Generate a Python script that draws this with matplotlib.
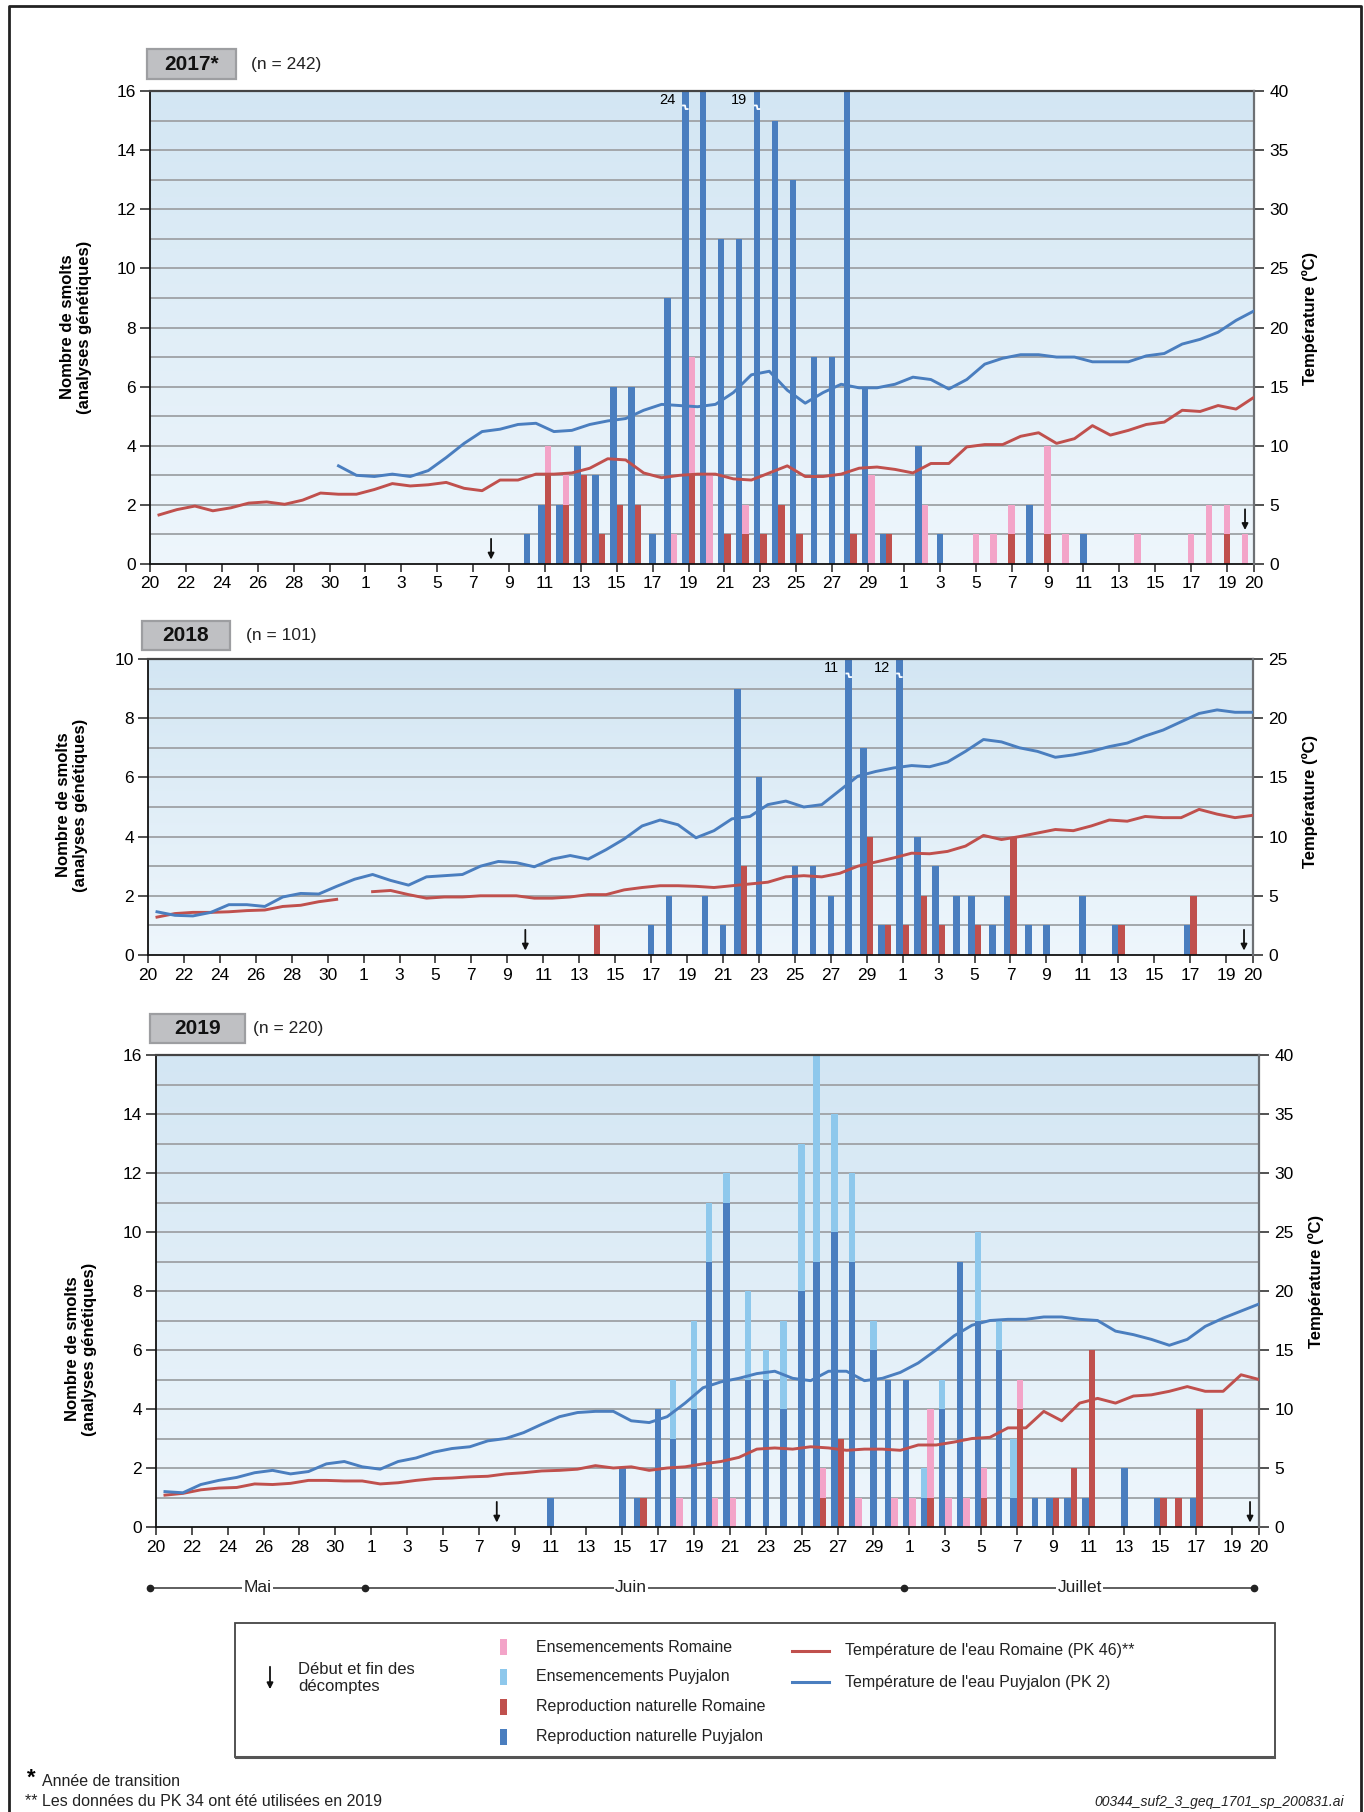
import datetime as dt
import numpy as np
import matplotlib
matplotlib.use("Agg")
import matplotlib.pyplot as plt
from matplotlib.patches import Rectangle
from matplotlib.lines import Line2D
from matplotlib.colors import LinearSegmentedColormap

plt.rcParams['font.family'] = ['Liberation Sans', 'DejaVu Sans']

# ---------------- data ----------------
# bars: day (MM-DD), Puyjalon natural / seeded, Romaine natural / seeded
days_2017 = ['06-10', '06-11', '06-12', '06-13', '06-14', '06-15', '06-16', '06-17', '06-18', '06-19',
             '06-20', '06-21', '06-22', '06-23', '06-24', '06-25', '06-26', '06-27', '06-28', '06-29',
             '06-30', '07-02', '07-03', '07-05', '07-06', '07-07', '07-08', '07-09', '07-10', '07-11',
             '07-14', '07-17', '07-18', '07-19', '07-20']
pn_2017 = [1, 2, 2, 4, 3, 6, 6, 1, 9, 24, 16, 11, 11, 19, 15, 13, 7, 7, 16, 6, 1, 4, 1, 0, 0, 0, 2, 0, 0, 1, 0, 0, 0, 0, 0]
ps_2017 = [0] * 35
rn_2017 = [0, 3, 2, 3, 1, 2, 2, 0, 0, 3, 0, 1, 1, 1, 2, 1, 0, 0, 1, 0, 1, 0, 0, 0, 0, 1, 0, 1, 0, 0, 0, 0, 0, 1, 0]
rs_2017 = [0, 1, 1, 0, 0, 0, 0, 0, 1, 4, 3, 0, 1, 0, 0, 0, 0, 0, 0, 3, 0, 2, 0, 1, 1, 1, 0, 3, 1, 0, 1, 1, 2, 1, 1]

days_2018 = ['06-14', '06-17', '06-18', '06-20', '06-21', '06-22', '06-23', '06-25', '06-26', '06-27',
             '06-28', '06-29', '06-30', '07-01', '07-02', '07-03', '07-04', '07-05', '07-06', '07-07',
             '07-08', '07-09', '07-11', '07-13', '07-17']
pn_2018 = [0, 1, 2, 2, 1, 9, 6, 3, 3, 2, 11, 7, 1, 12, 4, 3, 2, 2, 1, 2, 1, 1, 2, 1, 1]
ps_2018 = [0] * 25
rn_2018 = [1, 0, 0, 0, 0, 3, 0, 0, 0, 0, 0, 4, 1, 1, 2, 1, 0, 1, 0, 4, 0, 0, 0, 1, 2]
rs_2018 = [0] * 25

days_2019 = ['06-11', '06-15', '06-16', '06-17', '06-18', '06-19', '06-20', '06-21', '06-22', '06-23',
             '06-24', '06-25', '06-26', '06-27', '06-28', '06-29', '06-30', '07-01', '07-02', '07-03',
             '07-04', '07-05', '07-06', '07-07', '07-08', '07-09', '07-10', '07-11', '07-13', '07-15',
             '07-16', '07-17']
pn_2019 = [1, 2, 1, 4, 3, 4, 9, 11, 5, 5, 4, 8, 9, 10, 9, 6, 5, 5, 1, 4, 9, 7, 6, 1, 1, 1, 1, 1, 2, 1, 0, 1]
ps_2019 = [0, 0, 0, 0, 2, 3, 2, 1, 3, 1, 3, 5, 7, 4, 3, 1, 0, 0, 1, 1, 0, 3, 1, 2, 0, 0, 0, 0, 0, 0, 0, 0]
rn_2019 = [0, 0, 1, 0, 0, 0, 0, 0, 0, 0, 0, 0, 1, 3, 0, 0, 0, 0, 1, 0, 0, 1, 0, 4, 0, 1, 2, 6, 0, 1, 1, 4]
rs_2019 = [0, 0, 0, 0, 1, 0, 1, 1, 0, 0, 0, 0, 1, 0, 1, 0, 1, 1, 3, 1, 1, 1, 0, 1, 0, 0, 0, 0, 0, 0, 0, 0]

# start / end of counts
arrows_2017 = ['06-08', '07-20']
arrows_2018 = ['06-10', '07-20']
arrows_2019 = ['06-08', '07-20']

# daily water temperature (deg C), May 20 -> July 20
nan = np.nan
t_rom_2017 = [4.15, 4.6, 4.9, 4.5, 4.75, 5.15, 5.25, 5.05, 5.4, 6.0, 5.9, 5.9, 6.3, 6.8, 6.6, 6.7, 6.9, 6.4, 6.2, 7.1,
              7.1, 7.6, 7.6, 7.7, 8.1, 8.9, 8.8, 7.7, 7.3, 7.5, 7.6, 7.6, 7.2, 7.1, 7.7, 8.3, 7.4, 7.4, 7.6, 8.1,
              8.2, 8.0, 7.7, 8.5, 8.5, 9.9, 10.1, 10.1, 10.8, 11.1, 10.2, 10.6, 11.7, 10.9, 11.3, 11.8, 12.0, 13.0,
              12.9, 13.4, 13.1, 14.1]
t_puy_2017 = [nan] * 10 + [8.3, 7.5, 7.4, 7.6, 7.4, 7.9, 9.0, 10.2, 11.2, 11.4, 11.8, 11.9, 11.2, 11.3, 11.8, 12.1,
              12.3, 13.0, 13.5, 13.4, 13.3, 13.5, 14.5, 16.0, 16.3, 14.7, 13.6, 14.5, 15.2, 14.9, 14.9, 15.2, 15.8,
              15.6, 14.8, 15.6, 16.9, 17.4, 17.7, 17.7, 17.5, 17.5, 17.1, 17.1, 17.1, 17.6, 17.8, 18.6, 19.0, 19.6,
              20.6, 21.4]
t_rom_2018 = [3.2, 3.5, 3.6, 3.6, 3.65, 3.75, 3.8, 4.1, 4.2, 4.5, 4.7, nan, 5.35, 5.45, 5.1, 4.8, 4.9, 4.9, 5.0, 5.0,
              5.0, 4.8, 4.8, 4.9, 5.1, 5.1, 5.5, 5.7, 5.85, 5.85, 5.8, 5.7, 5.85, 6.0, 6.15, 6.6, 6.7, 6.6, 6.9, 7.5,
              7.85, 8.2, 8.6, 8.55, 8.75, 9.2, 10.1, 9.75, 10.0, 10.3, 10.6, 10.5, 10.9, 11.4, 11.3, 11.7, 11.6,
              11.6, 12.3, 11.9, 11.6, 11.8]
t_puy_2018 = [3.65, 3.35, 3.3, 3.6, 4.25, 4.25, 4.1, 4.9, 5.2, 5.15, 5.8, 6.4, 6.8, 6.3, 5.9, 6.6, 6.7, 6.8, 7.5, 7.9,
              7.8, 7.45, 8.1, 8.4, 8.1, 8.9, 9.8, 10.9, 11.4, 11.0, 9.9, 10.5, 11.5, 11.7, 12.7, 13.0, 12.5, 12.7,
              13.9, 15.1, 15.5, 15.8, 16.0, 15.9, 16.3, 17.2, 18.2, 18.0, 17.5, 17.2, 16.7, 16.9, 17.2, 17.6, 17.9,
              18.5, 19.0, 19.7, 20.4, 20.7, 20.5, 20.5]
t_rom_2019 = [2.7, 2.85, 3.15, 3.3, 3.35, 3.65, 3.6, 3.7, 3.95, 3.95, 3.9, 3.9, 3.65, 3.75, 3.95, 4.1, 4.15, 4.25,
              4.3, 4.5, 4.6, 4.75, 4.8, 4.9, 5.2, 5.0, 5.1, 4.8, 5.0, 5.1, 5.35, 5.55, 5.9, 6.6, 6.7, 6.6, 6.8, 6.7,
              6.5, 6.6, 6.6, 6.5, 6.95, 6.95, 7.2, 7.5, 7.6, 8.4, 8.4, 9.8, 9.0, 10.5, 10.9, 10.5, 11.1, 11.2, 11.5,
              11.9, 11.5, 11.5, 12.9, 12.5]
t_puy_2019 = [3.0, 2.9, 3.6, 3.95, 4.2, 4.6, 4.8, 4.5, 4.7, 5.35, 5.55, 5.1, 4.9, 5.55, 5.85, 6.35, 6.65, 6.8, 7.3,
              7.5, 8.0, 8.7, 9.35, 9.7, 9.8, 9.8, 9.0, 8.85, 9.35, 10.5, 11.8, 12.3, 12.6, 13.0, 13.2, 12.6, 12.4,
              13.2, 13.2, 12.4, 12.6, 13.1, 13.9, 15.0, 16.2, 17.1, 17.5, 17.6, 17.6, 17.8, 17.8, 17.6, 17.5, 16.6,
              16.3, 15.9, 15.4, 15.9, 17.0, 17.7, 18.3, 18.9]

# ---------------- style ----------------
C_PN, C_PS = '#4a7ebf', '#8ec8ec'
C_RN, C_RS = '#c0504d', '#f3a4c8'
BAR_W = 0.36
X_END = 61.5
BASE = dt.date(2017, 5, 20)
W_PX, H_PX = 1364, 1812
grad_cmap = LinearSegmentedColormap.from_list('bg', ['#eef6fc', '#d3e6f3'])


def day_index(md):
    m, d = map(int, md.split('-'))
    return (dt.date(2017, m, d) - BASE).days


def fx(x):
    return x / W_PX


def fy(y):
    return 1 - y / H_PX


fig = plt.figure(figsize=(13.64, 18.12), dpi=100)

tick_pos = list(range(0, 61, 2)) + [X_END]
tick_lab = [str((BASE + dt.timedelta(days=k)).day) for k in range(0, 61, 2)] + ['20']
t_x = np.arange(62) + 0.5


def panel(box, ytop, ttop, days, pn, ps, rn, rs, t_rom, t_puy, arrows):
    left, top, right, bottom = box
    ax = fig.add_axes([fx(left), fy(bottom), fx(right - left), (bottom - top) / H_PX])
    grad = np.linspace(0, 1, 256).reshape(-1, 1)
    ax.imshow(grad, extent=[0, X_END, 0, ytop], origin='lower', aspect='auto', cmap=grad_cmap, zorder=0)
    for g in range(1, ytop):
        ax.axhline(g, color='#a3a7ab', lw=1.4, zorder=1)

    x = np.array([day_index(d) for d in days], float)
    pn, ps, rn, rs = (np.array(a, float) for a in (pn, ps, rn, rs))
    both = ((pn + ps) > 0) & ((rn + rs) > 0)
    xp = np.where(both, x - BAR_W / 2, x)
    xr = np.where(both, x + BAR_W / 2, x)
    ax.bar(xp, pn, BAR_W, color=C_PN, lw=0, zorder=2)
    ax.bar(xp, ps, BAR_W, bottom=pn, color=C_PS, lw=0, zorder=2)
    ax.bar(xr, rn, BAR_W, color=C_RN, lw=0, zorder=2)
    ax.bar(xr, rs, BAR_W, bottom=rn, color=C_RS, lw=0, zorder=2)

    # broken bars above the axis limit
    for xi, v in zip(xp, pn + ps):
        if v > ytop:
            l, r = xi - BAR_W / 2, xi + BAR_W / 2
            yb = ytop - 0.55
            ax.plot([l, l + BAR_W * 0.45, l + BAR_W * 0.55, r], [yb + 0.06, yb + 0.06, yb - 0.06, yb - 0.06],
                    color='white', lw=1.3, zorder=3, solid_capstyle='butt')
            ax.text(l - 0.35, ytop - 0.3, f'{int(v)}', ha='right', va='center', fontsize=10.5, zorder=4)

    # start / end arrows
    tot = {}
    for xi, a, b in zip(x, pn + ps, rn + rs):
        tot[xi] = max(a, b)
    for a in arrows:
        xa = day_index(a)
        base = tot.get(xa, 0)
        ax.annotate('', xy=(xa, base + 0.15), xytext=(xa, base + 0.85),
                    arrowprops=dict(arrowstyle='-|>', color='#111111', lw=1.3, mutation_scale=9,
                                    shrinkA=0, shrinkB=0), zorder=5)

    ax.set_xlim(0, X_END)
    ax.set_ylim(0, ytop)
    ax.set_yticks(range(0, ytop + 1, 2))
    ax.set_xticks(tick_pos)
    ax.set_xticklabels(tick_lab)
    ax.tick_params(axis='both', labelsize=12.5, length=6, width=1.1, color='#222222', direction='out')
    ax.tick_params(axis='x', pad=3)
    ax.tick_params(axis='y', pad=3, length=7)
    for s in ('left', 'bottom'):
        ax.spines[s].set_color('#111111')
        ax.spines[s].set_linewidth(1.3)
    ax.spines['top'].set_color('#444444')
    ax.spines['top'].set_linewidth(1.6)
    ax.spines['right'].set_visible(False)

    tw = ax.twinx()
    tw.plot(t_x, t_rom, color=C_RN, lw=2.1, zorder=3)
    tw.plot(t_x, t_puy, color=C_PN, lw=2.1, zorder=3)
    tw.set_ylim(0, ttop)
    tw.set_xlim(0, X_END)
    tw.set_yticks(range(0, ttop + 1, 5))
    tw.tick_params(axis='y', labelsize=12.5, length=7, width=1.1, color='#222222', pad=4)
    for s in ('left', 'top', 'bottom'):
        tw.spines[s].set_visible(False)
    tw.spines['right'].set_color('#6d7074')
    tw.spines['right'].set_linewidth(1.6)
    return ax


panel((150, 91, 1254, 564), 16, 40, days_2017, pn_2017, ps_2017, rn_2017, rs_2017, t_rom_2017, t_puy_2017, arrows_2017)
panel((148, 659, 1253, 955), 10, 25, days_2018, pn_2018, ps_2018, rn_2018, rs_2018, t_rom_2018, t_puy_2018, arrows_2018)
panel((156, 1055, 1259, 1527), 16, 40, days_2019, pn_2019, ps_2019, rn_2019, rs_2019, t_rom_2019, t_puy_2019, arrows_2019)

# year headers
for (x0, y0, x1, y1), year, n, nx in [((147, 49, 236, 79), '2017*', '(n = 242)', 251),
                                      ((142, 621, 230, 650), '2018', '(n = 101)', 246),
                                      ((150, 1014, 245, 1043), '2019', '(n = 220)', 253)]:
    fig.add_artist(Rectangle((fx(x0), fy(y1)), fx(x1 - x0), (y1 - y0) / H_PX, transform=fig.transFigure,
                             facecolor='#bfc0c3', edgecolor='#9d9ea1', lw=1.6))
    fig.text(fx((x0 + x1) / 2), fy((y0 + y1) / 2), year, ha='center', va='center', fontsize=15,
             fontweight='bold', color='#111111')
    fig.text(fx(nx), fy((y0 + y1) / 2), n, ha='left', va='center', fontsize=12.5, color='#222222')

# axis titles
ylab = 'Nombre de smolts\n(analyses génétiques)'
for x, y in [(76, 327), (72, 805), (81, 1349)]:
    fig.text(fx(x), fy(y), ylab, rotation=90, ha='center', va='center', fontsize=12, fontweight='bold',
             multialignment='center', linespacing=1.1)
for x, y in [(1310, 318), (1310, 801), (1316, 1281)]:
    fig.text(fx(x), fy(y), 'Température (ºC)', rotation=90, ha='center', va='center', fontsize=12,
             fontweight='bold')

# month row
mx = fig.add_axes([fx(150), fy(1600), fx(1254 - 150), 24 / H_PX])
mx.set_xlim(0, X_END)
mx.set_ylim(-1, 1)
mx.axis('off')
mx.plot([0, X_END], [0, 0], color='#333333', lw=1.1, clip_on=False)
mx.plot([0, 12, 42, X_END], [0, 0, 0, 0], 'o', color='#222222', ms=4.5, clip_on=False)
for xm, name in [(6, 'Mai'), (26.8, 'Juin'), (51.8, 'Juillet')]:
    mx.text(xm, 0, name, ha='center', va='center', fontsize=12.5, color='#222222',
            bbox=dict(boxstyle='square,pad=0.08', fc='white', ec='none'))

# legend box
fig.add_artist(Rectangle((fx(235), fy(1757)), fx(1275 - 235), (1757 - 1623) / H_PX, transform=fig.transFigure,
                         facecolor='white', edgecolor='#444444', lw=1.3))
fig.add_artist(Line2D([fx(236), fx(1274)], [fy(1757), fy(1757)], color='#555555', lw=2.2))
fig.text(fx(298), fy(1678), 'Début et fin des\ndécomptes', ha='left', va='center', fontsize=12,
         linespacing=1.15, color='#222222')
fig.add_artist(matplotlib.patches.FancyArrowPatch((fx(270), fy(1664)), (fx(270), fy(1692)),
                                                  transform=fig.transFigure, arrowstyle='-|>',
                                                  mutation_scale=9, color='#111111', lw=1.3))
for yy, col, lab in [(1647, C_RS, 'Ensemencements Romaine'), (1677, C_PS, 'Ensemencements Puyjalon'),
                     (1707, C_RN, 'Reproduction naturelle Romaine'),
                     (1737, C_PN, 'Reproduction naturelle Puyjalon')]:
    fig.add_artist(Rectangle((fx(500), fy(yy + 8)), fx(7), 16 / H_PX, transform=fig.transFigure,
                             facecolor=col, edgecolor='none'))
    fig.text(fx(536), fy(yy), lab, ha='left', va='center', fontsize=11.5, color='#222222')
for yy, col, lab in [(1651, C_RN, "Température de l'eau Romaine (PK 46)**"),
                     (1682, C_PN, "Température de l'eau Puyjalon (PK 2)")]:
    fig.add_artist(Line2D([fx(792), fx(829)], [fy(yy), fy(yy)], color=col, lw=2.2))
    fig.text(fx(845), fy(yy), lab, ha='left', va='center', fontsize=11.5, color='#222222')

# footnotes
fig.text(fx(27), fy(1778), '*', ha='left', va='center', fontsize=16, fontweight='bold')
fig.text(fx(42), fy(1782), 'Année de transition', ha='left', va='center', fontsize=11.5, color='#222222')
fig.text(fx(25), fy(1802), '** Les données du PK 34 ont été utilisées en 2019', ha='left', va='center',
         fontsize=11.5, color='#222222')
fig.text(fx(1344), fy(1802), '00344_suf2_3_geq_1701_sp_200831.ai', ha='right', va='center', fontsize=10,
         style='italic', color='#222222')

# outer frame
fig.add_artist(Line2D([fx(9), fx(9), fx(1361), fx(1361)], [0, fy(6), fy(6), 0], color='#222222', lw=2))

fig.savefig('out.png', dpi=100)
